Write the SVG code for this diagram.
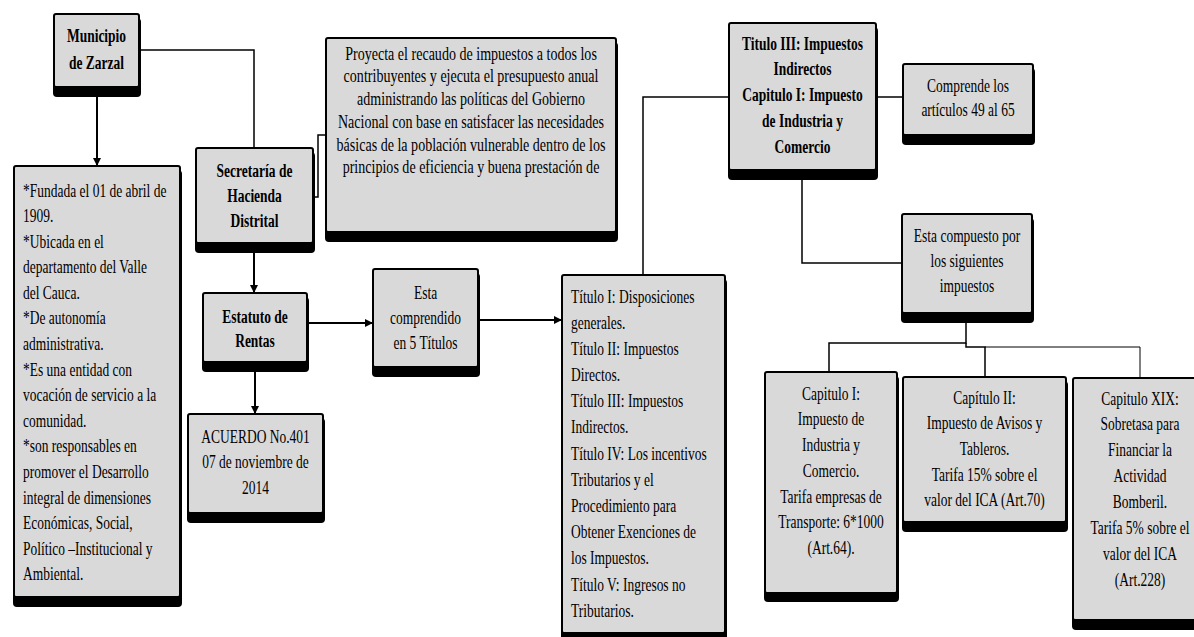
<svg xmlns="http://www.w3.org/2000/svg" width="1194" height="637" viewBox="0 0 1194 637">
<style>
.bg{fill:#fff}
.sh{fill:#000}
.box{fill:#d9d9d9;stroke:#000;stroke-width:2}
.t{font-family:"Liberation Serif","Times New Roman",serif;font-size:19px;fill:#000}
.b{font-weight:bold}
.ln{fill:none;stroke:#000;stroke-width:1.5}
.ar{fill:none;stroke:#000;stroke-width:2;marker-end:url(#ah)}
</style>
<defs>
<marker id="ah" markerWidth="9" markerHeight="9" refX="8" refY="4" orient="auto" markerUnits="userSpaceOnUse">
<path d="M0,0 L8,4 L0,8 z" fill="#000"/>
</marker>
</defs>
<rect class="bg" x="0" y="0" width="1194" height="637"/>

<g id="municipio">
<rect class="sh" x="53" y="18" width="88" height="79" rx="4"/>
<rect class="box" x="54" y="14" width="85" height="73" rx="2"/>
<text class="t b" text-anchor="middle" transform="translate(96.5,42) scale(0.71,1)"><tspan x="0">Municipio</tspan><tspan x="0" dy="27">de Zarzal</tspan></text>
</g>

<g id="info-municipio">
<rect class="sh" x="13" y="170" width="169" height="437" rx="4"/>
<rect class="box" x="14" y="166" width="166" height="431" rx="2"/>
<text class="t" transform="translate(23,196.5) scale(0.71,1)"><tspan x="0">*Fundada el 01 de abril de</tspan><tspan x="0" dy="25.6">1909.</tspan><tspan x="0" dy="25.6">*Ubicada  en el</tspan><tspan x="0" dy="25.6">departamento  del Valle</tspan><tspan x="0" dy="25.6">del Cauca.</tspan><tspan x="0" dy="25.6">*De autonomía</tspan><tspan x="0" dy="25.6">administrativa.</tspan><tspan x="0" dy="25.6">*Es una entidad con</tspan><tspan x="0" dy="25.6">vocación de servicio a la</tspan><tspan x="0" dy="25.6">comunidad.</tspan><tspan x="0" dy="25.6">*son  responsables en</tspan><tspan x="0" dy="25.6">promover el Desarrollo</tspan><tspan x="0" dy="25.6">integral  de dimensiones</tspan><tspan x="0" dy="25.6">Económicas,  Social,</tspan><tspan x="0" dy="25.6">Político  –Institucional  y</tspan><tspan x="0" dy="25.6">Ambiental.</tspan></text>
</g>

<g id="secretaria">
<rect class="sh" x="195" y="152" width="120" height="101" rx="4"/>
<rect class="box" x="196" y="148" width="117" height="95" rx="2"/>
<text class="t b" text-anchor="middle" transform="translate(254.5,177) scale(0.71,1)"><tspan x="0">Secretaría de</tspan><tspan x="0" dy="25">Hacienda</tspan><tspan x="0" dy="25">Distrital</tspan></text>
</g>

<g id="proyecta">
<rect class="sh" x="325" y="42" width="293" height="200" rx="4"/>
<rect class="box" x="326" y="38" width="290" height="194" rx="2"/>
<text class="t" text-anchor="middle" transform="translate(471,59.5) scale(0.74,1)"><tspan x="0">Proyecta el recaudo de impuestos  a todos los</tspan><tspan x="0" dy="23">contribuyentes  y ejecuta el presupuesto anual</tspan><tspan x="0" dy="23">administrando  las políticas  del Gobierno</tspan><tspan x="0" dy="23">Nacional  con base en satisfacer  las necesidades</tspan><tspan x="0" dy="22.5">básicas de la población  vulnerable  dentro de los</tspan><tspan x="0" dy="22.5">principios  de eficiencia  y buena prestación  de</tspan></text>
</g>

<g id="estatuto">
<rect class="sh" x="202" y="297" width="107" height="75" rx="4"/>
<rect class="box" x="203" y="293" width="104" height="69" rx="2"/>
<text class="t b" text-anchor="middle" transform="translate(255,323) scale(0.71,1)"><tspan x="0">Estatuto de</tspan><tspan x="0" dy="24">Rentas</tspan></text>
</g>

<g id="comprendido">
<rect class="sh" x="372" y="273" width="108" height="104" rx="4"/>
<rect class="box" x="373" y="269" width="105" height="98" rx="2"/>
<text class="t" text-anchor="middle" transform="translate(425.5,298.5) scale(0.71,1)"><tspan x="0">Esta</tspan><tspan x="0" dy="25.5">comprendido</tspan><tspan x="0" dy="25.5">en 5 Títulos</tspan></text>
</g>

<g id="acuerdo">
<rect class="sh" x="187" y="418" width="138" height="105" rx="4"/>
<rect class="box" x="188" y="414" width="135" height="99" rx="2"/>
<text class="t" text-anchor="middle" transform="translate(255.5,442.5) scale(0.71,1)"><tspan x="0">ACUERDO No.401</tspan><tspan x="0" dy="26">07 de noviembre  de</tspan><tspan x="0" dy="26">2014</tspan></text>
</g>

<g id="titulos">
<rect class="sh" x="561" y="279" width="166" height="364" rx="4"/>
<rect class="box" x="562" y="275" width="163" height="358" rx="2"/>
<text class="t" transform="translate(571,302.5) scale(0.71,1)"><tspan x="0">Título  I: Disposiciones</tspan><tspan x="0" dy="26.2">generales.</tspan><tspan x="0" dy="26.2">Título  II: Impuestos</tspan><tspan x="0" dy="26.2">Directos.</tspan><tspan x="0" dy="26.2">Título  III: Impuestos</tspan><tspan x="0" dy="26.2">Indirectos.</tspan><tspan x="0" dy="26.2">Título  IV: Los incentivos</tspan><tspan x="0" dy="26.2">Tributarios  y el</tspan><tspan x="0" dy="26.2">Procedimiento  para</tspan><tspan x="0" dy="26.2">Obtener Exenciones  de</tspan><tspan x="0" dy="26.2">los Impuestos.</tspan><tspan x="0" dy="26.2">Título  V: Ingresos no</tspan><tspan x="0" dy="26.2">Tributarios.</tspan></text>
</g>

<g id="titulo-iii">
<rect class="sh" x="728" y="27" width="150" height="153" rx="4"/>
<rect class="box" x="729" y="23" width="147" height="147" rx="2"/>
<text class="t b" text-anchor="middle" transform="translate(802.5,49.5) scale(0.71,1)"><tspan x="0">Titulo III: Impuestos</tspan><tspan x="0" dy="26">Indirectos</tspan><tspan x="0" dy="26">Capitulo I: Impuesto</tspan><tspan x="0" dy="26">de Industria  y</tspan><tspan x="0" dy="26">Comercio</tspan></text>
</g>

<g id="articulos">
<rect class="sh" x="902" y="68" width="133" height="77" rx="4"/>
<rect class="box" x="903" y="64" width="130" height="71" rx="2"/>
<text class="t" text-anchor="middle" transform="translate(968,91.5) scale(0.71,1)"><tspan x="0">Comprende los</tspan><tspan x="0" dy="25">artículos  49 al 65</tspan></text>
</g>

<g id="compuesto">
<rect class="sh" x="901" y="218" width="133" height="105" rx="4"/>
<rect class="box" x="902" y="214" width="130" height="99" rx="2"/>
<text class="t" text-anchor="middle" transform="translate(967,241.5) scale(0.71,1)"><tspan x="0">Esta compuesto  por</tspan><tspan x="0" dy="25.5">los siguientes</tspan><tspan x="0" dy="25.5">impuestos</tspan></text>
</g>

<g id="capitulo-i">
<rect class="sh" x="764" y="376" width="135" height="226" rx="4"/>
<rect class="box" x="765" y="372" width="132" height="221" rx="2"/>
<text class="t" text-anchor="middle" transform="translate(831,399.5) scale(0.71,1)"><tspan x="0">Capitulo I:</tspan><tspan x="0" dy="25.8">Impuesto  de</tspan><tspan x="0" dy="25.8">Industria  y</tspan><tspan x="0" dy="25.8">Comercio.</tspan><tspan x="0" dy="25.8">Tarifa  empresas de</tspan><tspan x="0" dy="25.8">Transporte: 6*1000</tspan><tspan x="0" dy="25.8">(Art.64).</tspan></text>
</g>

<g id="capitulo-ii">
<rect class="sh" x="902" y="381" width="166" height="151" rx="4"/>
<rect class="box" x="903" y="377" width="163" height="145" rx="2"/>
<text class="t" text-anchor="middle" transform="translate(984.5,403.5) scale(0.71,1)"><tspan x="0">Capítulo II:</tspan><tspan x="0" dy="25.7">Impuesto  de Avisos  y</tspan><tspan x="0" dy="25.7">Tableros.</tspan><tspan x="0" dy="25.7">Tarifa  15%  sobre el</tspan><tspan x="0" dy="25.7">valor del ICA (Art.70)</tspan></text>
</g>

<g id="capitulo-xix">
<rect class="sh" x="1072" y="382" width="138" height="248" rx="4"/>
<rect class="box" x="1073" y="378" width="135" height="242" rx="2"/>
<text class="t" text-anchor="middle" transform="translate(1140,404.5) scale(0.71,1)"><tspan x="0">Capitulo XIX:</tspan><tspan x="0" dy="26">Sobretasa para</tspan><tspan x="0" dy="26">Financiar  la</tspan><tspan x="0" dy="26">Actividad</tspan><tspan x="0" dy="26">Bomberil.</tspan><tspan x="0" dy="26">Tarifa  5%  sobre el</tspan><tspan x="0" dy="26">valor  del ICA</tspan><tspan x="0" dy="26">(Art.228)</tspan></text>
</g>

<g id="connectors">
<path class="ar" d="M97,97 V166"/>
<path class="ln" d="M139,50 H254 V148"/>
<path class="ln" d="M313,197 H318 V135 H326"/>
<path class="ar" d="M254,253 V293"/>
<path class="ar" d="M307,323 H373"/>
<path class="ar" d="M255,372 V414"/>
<path class="ar" d="M478,320 H562"/>
<path class="ln" d="M643,275 V97 H729"/>
<path class="ln" d="M876,97 H903"/>
<path class="ln" d="M802,180 V263 H902"/>
<path class="ln" d="M966,323 V343 H829 V372"/>
<path class="ln" d="M966,343 V347 H985 V377"/>
<path class="ln" style="stroke-width:1" d="M985,347 H1140 V378"/>
</g>
</svg>
